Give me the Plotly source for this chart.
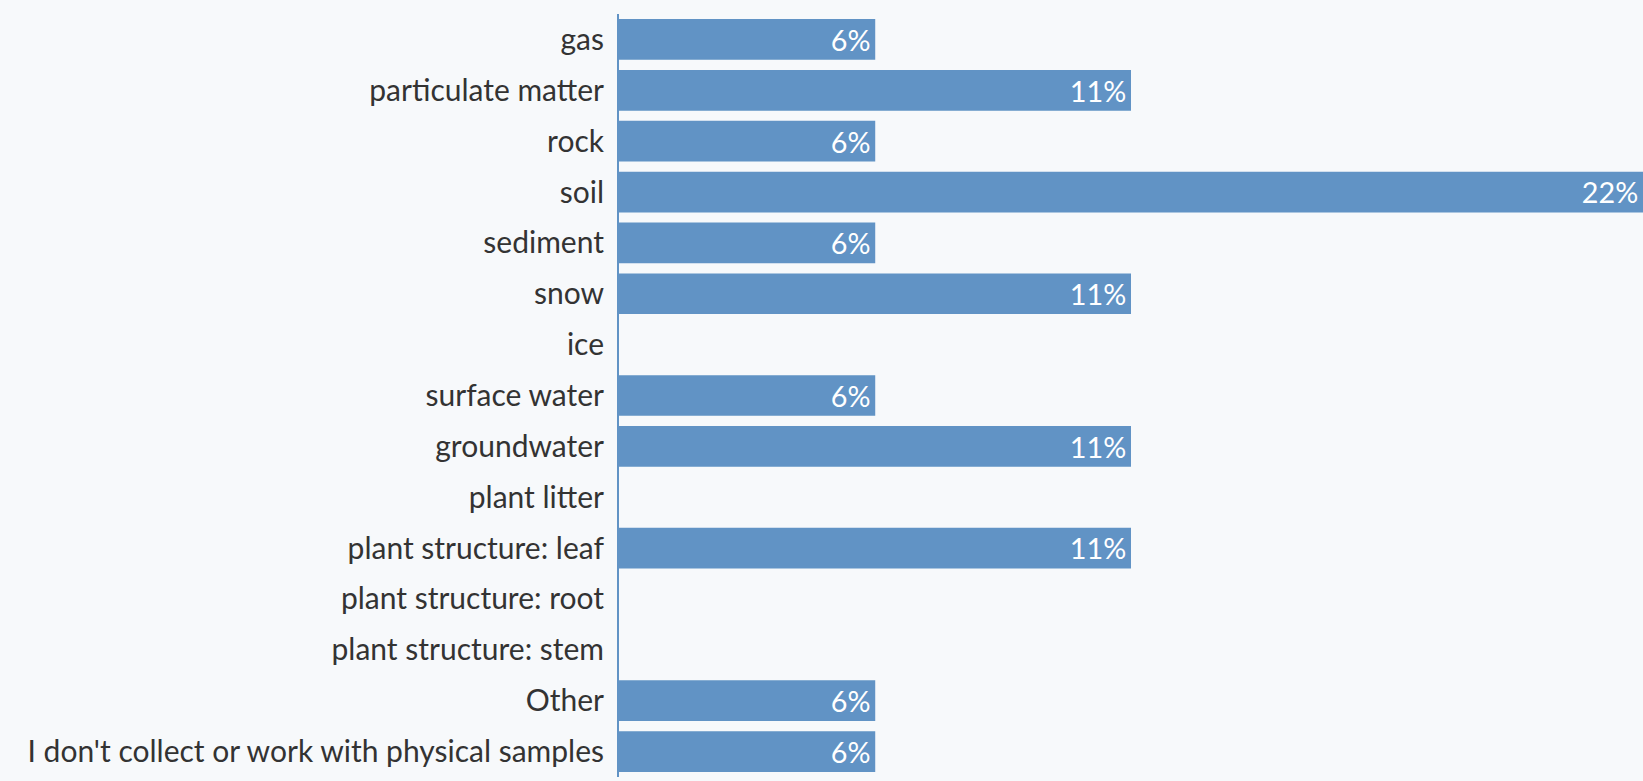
import plotly.graph_objects as go

categories = [
    "gas", "particulate matter", "rock", "soil", "sediment", "snow", "ice",
    "surface water", "groundwater", "plant litter", "plant structure: leaf",
    "plant structure: root", "plant structure: stem", "Other",
    "I don't collect or work with physical samples",
]
percents = [5.56, 11.11, 5.56, 22.22, 5.56, 11.11, 0, 5.56, 11.11, 0, 11.11, 0, 0, 5.56, 5.56]

labels = [f"{v:.0f}%\u200a" if v > 0 else "" for v in percents]

BAR = "#6193c5"
BG = "#f7f9fb"
FONT = "Lato"

fig = go.Figure(go.Bar(
    x=percents, y=categories, orientation="h",
    marker=dict(color=BAR, line=dict(width=0)),
    text=labels, textposition="inside", insidetextanchor="end",
    textfont=dict(color="white", size=29, family=FONT),
    width=0.8, hoverinfo="skip", cliponaxis=False,
))

fig.update_layout(
    width=1643, height=781,
    margin=dict(l=619, r=0, t=14, b=4),
    paper_bgcolor=BG, plot_bgcolor=BG,
    showlegend=False,
    font=dict(family=FONT, size=30, color="#333333"),
    xaxis=dict(visible=False, range=[0, max(percents)], fixedrange=True),
    yaxis=dict(
        autorange="reversed", showgrid=False, zeroline=False,
        showline=True, linecolor=BAR, linewidth=2,
        ticks="", ticklabelstandoff=7,
        tickfont=dict(size=30, color="#333333", family=FONT),
    ),
    uniformtext=dict(mode="show", minsize=10),
)

fig.write_html(
    "out.html",
    config=dict(displayModeBar=False),
    post_script="document.body.style.margin='0';document.body.style.overflow='hidden';",
)
